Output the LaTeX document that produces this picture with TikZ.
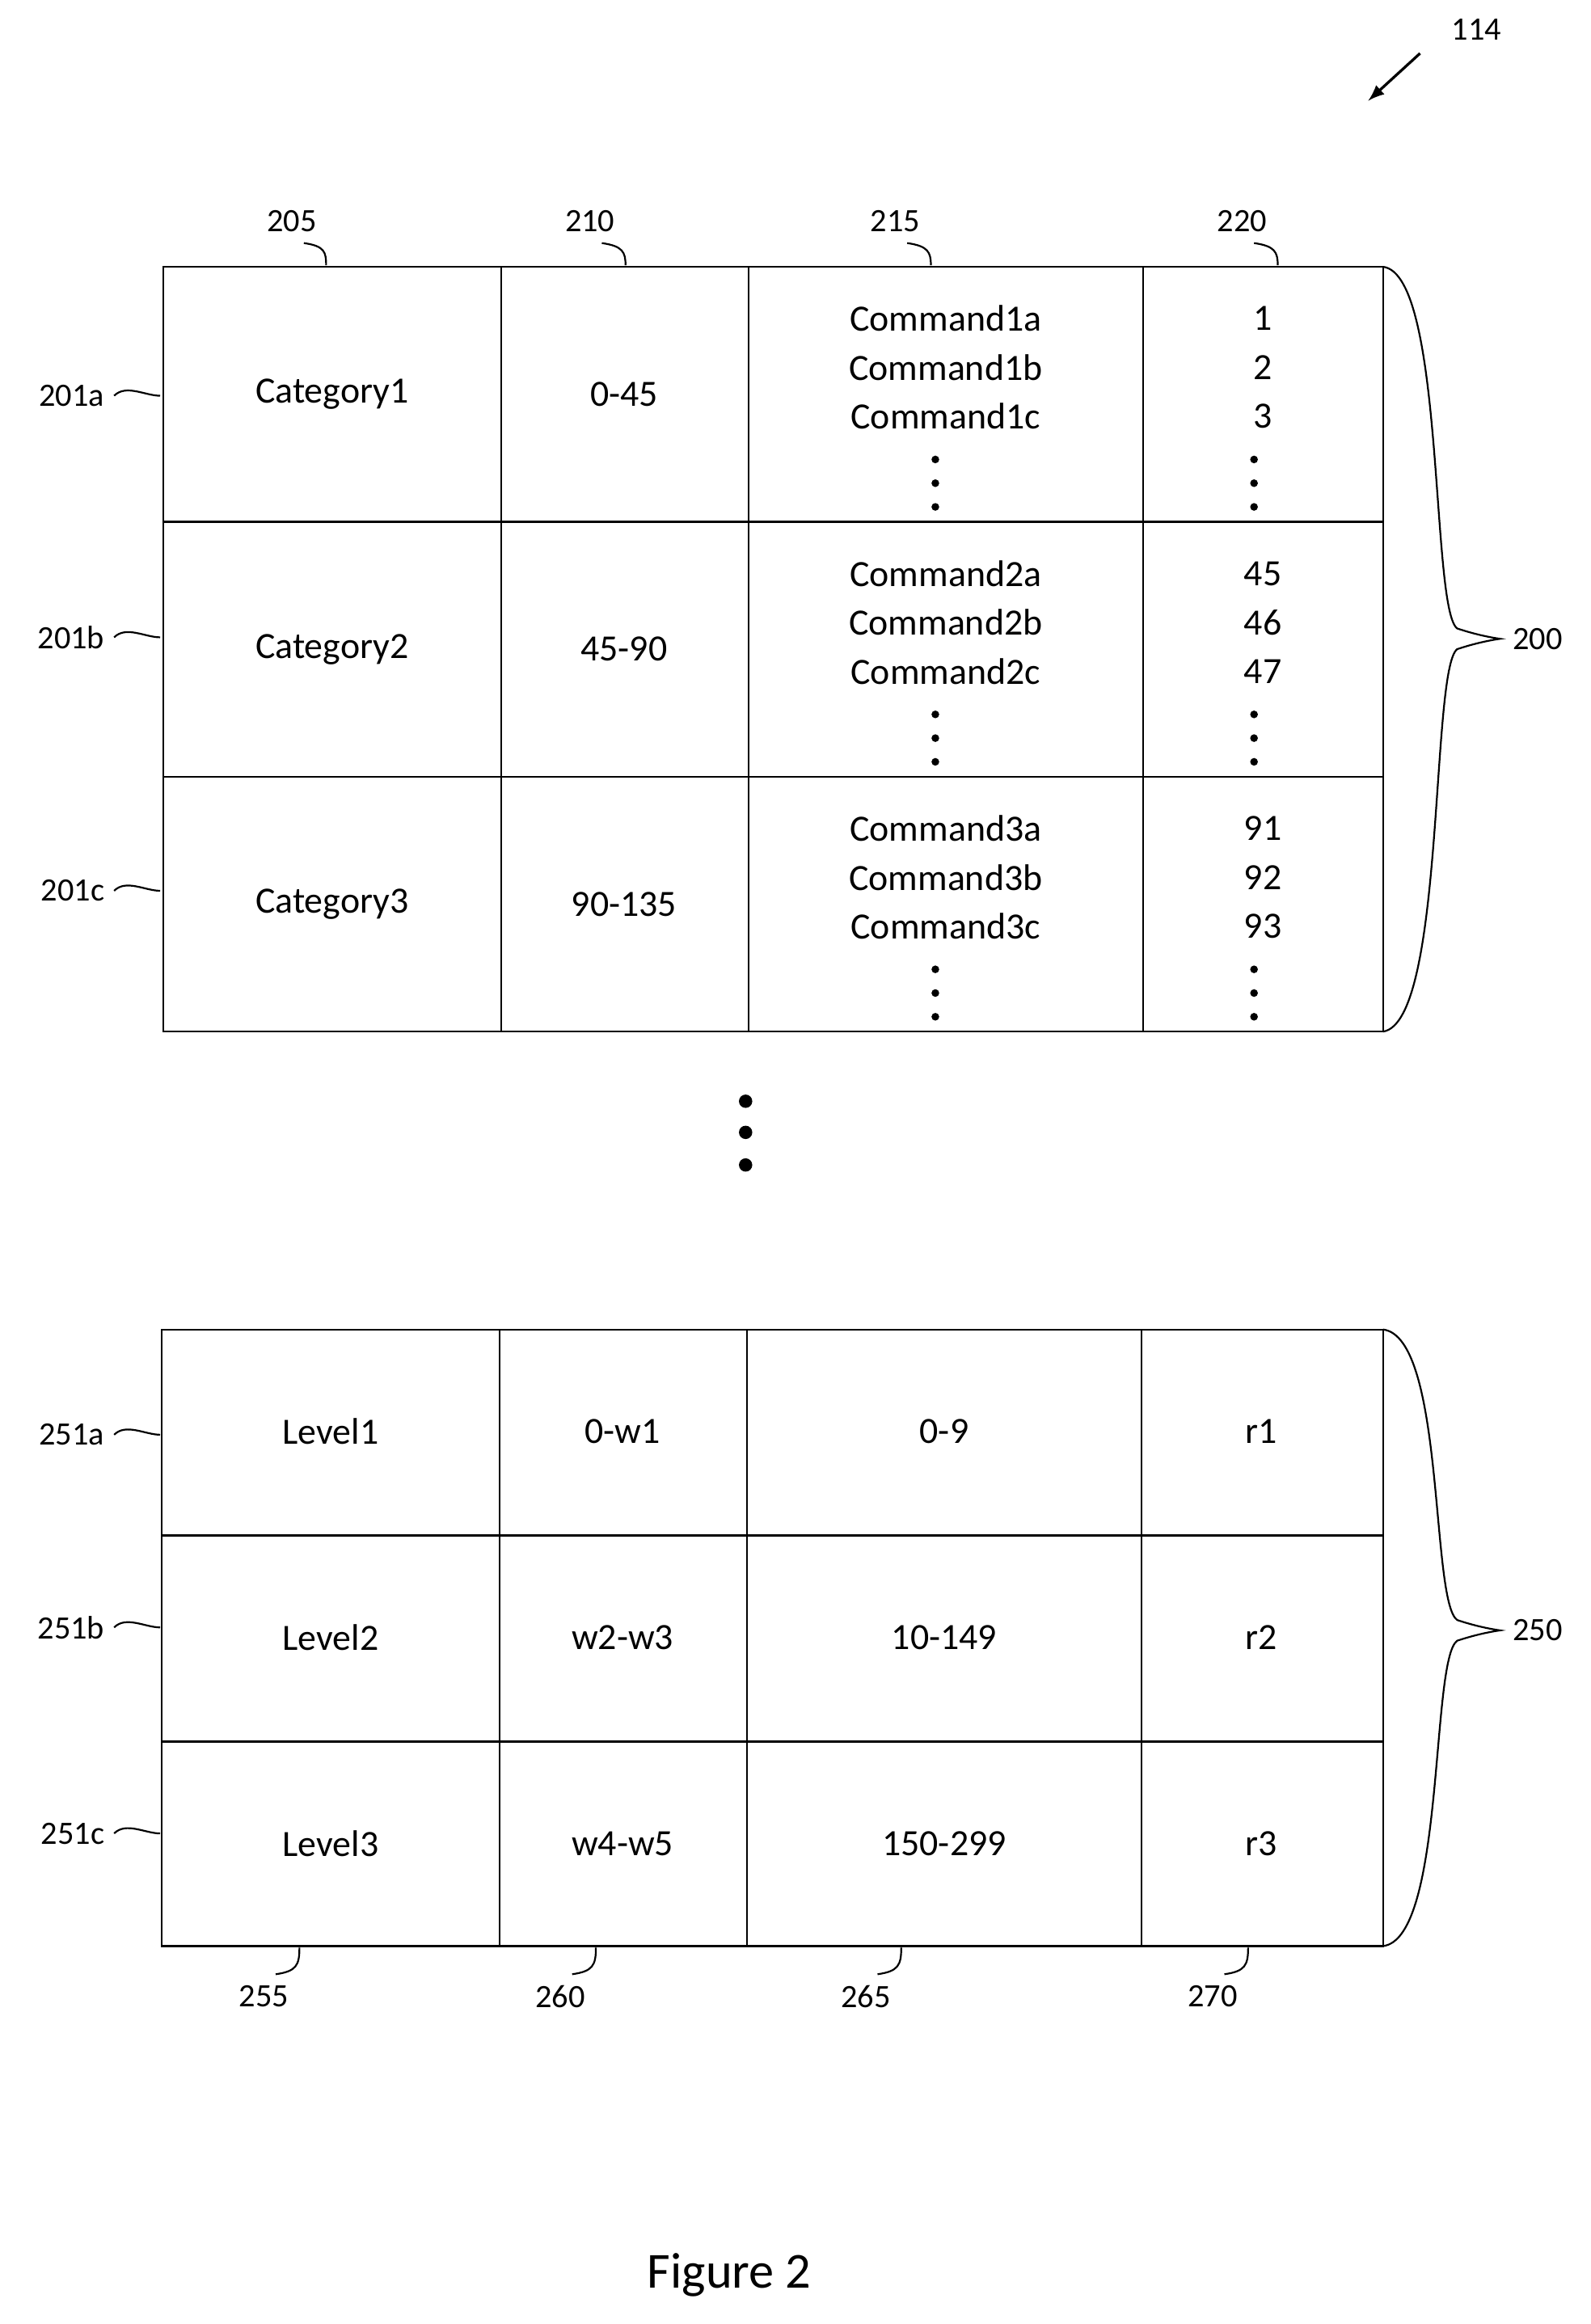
\documentclass[tikz,border=0pt]{standalone}
\usepackage{fontspec}
\setmainfont{Carlito}
\usetikzlibrary{positioning}
\tikzset{
  celltext/.style={font=\fontsize{12.5}{15}\selectfont},
  reftext/.style={font=\fontsize{11}{13}\selectfont,inner sep=1pt},
  leader/.style={draw,line width=0.5pt},
  bigdot/.style={fill,circle,inner sep=0pt,minimum size=2.6pt}
}
\begin{document}
\begin{tikzpicture}[x=0.5pt,y=-0.5pt,line width=0.6pt]
\useasboundingbox (0,0) rectangle (1073,1568);
% upper table
\foreach \xa/\xb in {110/338,338/505,505/771,771/933}
  \foreach \ya/\yb in {180/352,352/524,524/696}
    \draw (\xa,\ya) rectangle (\xb,\yb);
% lower table
\foreach \xa/\xb in {109/337,337/504,504/770,770/933}
  \foreach \ya/\yb in {897/1036,1036/1175,1175/1313}
    \draw (\xa,\ya) rectangle (\xb,\yb);
% upper cells
\foreach \n/\y/\r/\c in {1/266/0-45/1,2/438/45-90/45,3/610/90-135/91}{
  \node[celltext] (cat\n) at (224,\y) {Category\n};
  \node[celltext] (rng\n) at (421,\y) {\r};
}
\foreach \n/\y/\a/\b/\c in {1/180/1/2/3,2/352/45/46/47,3/524/91/92/93}{
  \node[celltext] (cmd\n a) at (638,\y+35) {Command\n a};
  \node[celltext] (cmd\n b) at (638,\y+68) {Command\n b};
  \node[celltext] (cmd\n c) at (638,\y+101) {Command\n c};
  \node[celltext] (num\n a) at (852,\y+35) {\a};
  \node[celltext] (num\n b) at (852,\y+68) {\b};
  \node[celltext] (num\n c) at (852,\y+101) {\c};
  \foreach \d in {130,146,162}{
    \node[bigdot] at (631,\y+\d) {};
    \node[bigdot] at (846,\y+\d) {};
  }
}
% lower cells
\foreach \n/\y/\w/\s/\r in {1/966/0-w1/0-9/r1,2/1105/w2-w3/10-149/r2,3/1244/w4-w5/150-299/r3}{
  \node[celltext] (lvl\n) at (223,\y) {Level\n};
  \node[celltext] (wid\n) at (420,\y) {\w};
  \node[celltext] (scr\n) at (637,\y) {\s};
  \node[celltext] (rat\n) at (851,\y) {\r};
}
% dots between tables
\foreach \y in {743,764,786} \node[bigdot,minimum size=4.5pt] at (503,\y) {};
% column labels top
\foreach \l/\x/\t in {205/197/220,210/398/422,215/604/628,220/838/862}{
  \node[reftext] (lab\l) at (\x,149) {\l};
  \draw (\x+8,164) .. controls (\x+22,166) and (\t,170) .. (\t,179);
}
% column labels bottom
\foreach \l/\x/\t in {255/178/202,260/378/402,265/584/608,270/818/842}{
  \node[reftext] (lab\l) at (\x,1347) {\l};
  \draw (\x+8,1332) .. controls (\x+22,1330) and (\t,1326) .. (\t,1314);
}
% row labels
\foreach \l/\y in {201a/267,201b/430,201c/601,251a/968,251b/1098,251c/1237}{
  \node[reftext,anchor=east] (lab\l) at (73,\y) {\l};
  \draw (lab\l.east) ++(4,0) .. controls +(8,-8) and (98,\y) .. (108,\y);
}
% braces
\draw (933,180) .. controls (975,185) and (965,410) .. (983,424) .. controls (995,428) and (1005,430) .. (1012,431)
      .. controls (1005,432) and (995,434) .. (983,438) .. controls (965,452) and (975,690) .. (933,696);
\node[reftext,anchor=west] (lab200) at (1018,431) {200};
\draw (933,897) .. controls (975,902) and (965,1080) .. (983,1093) .. controls (995,1097) and (1005,1099) .. (1012,1100)
      .. controls (1005,1101) and (995,1103) .. (983,1107) .. controls (965,1120) and (975,1308) .. (933,1313);
\node[reftext,anchor=west] (lab250) at (1018,1100) {250};
% reference arrow
\node[reftext] (lab114) at (996,20) {114};
\coordinate (tip114) at (923,68);
\draw[-latex,line width=0.9pt] (958,36) -- (tip114);
\node[font=\fontsize{17}{20}\selectfont] (fig) at (492,1535) {Figure 2};
\end{tikzpicture}
\end{document}
